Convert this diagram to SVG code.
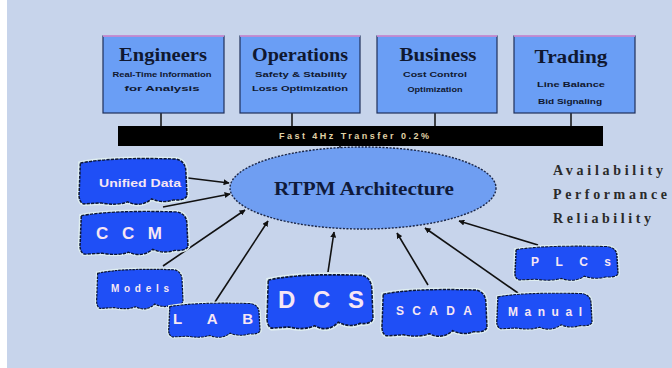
<svg xmlns="http://www.w3.org/2000/svg" xmlns:xlink="http://www.w3.org/1999/xlink" width="672" height="368" viewBox="0 0 672 368">
<style>
.box{fill:#6a9ef5;stroke:#1e2f5a;stroke-width:1.2}
.boxtop{stroke:#e69ae6;stroke-width:1.5}
.title{font-family:"Liberation Serif",serif;font-weight:bold;font-size:18px;fill:#101830;text-anchor:middle}
.sub{font-family:"Liberation Sans",sans-serif;font-weight:bold;font-size:8px;fill:#101830;text-anchor:middle}
.stub{stroke:#111;stroke-width:1.5}
.conn{stroke:#111;stroke-width:1.6;fill:none;marker-end:url(#ah)}
.halo{fill:none;stroke:#dfeef0;stroke-width:4;vector-effect:non-scaling-stroke}
.blob{fill:#1f4ff6;stroke:#0b1638;stroke-width:1.4;stroke-dasharray:3 1;vector-effect:non-scaling-stroke}
.nt{font-family:"Liberation Sans",sans-serif;font-weight:bold;fill:#f6e6f4;text-anchor:middle}
.side{font-family:"Liberation Serif",serif;font-weight:bold;font-size:14px;fill:#2a2a2a}
</style>
<defs>
<marker id="ah" viewBox="0 0 10 10" refX="9" refY="5" markerWidth="6" markerHeight="6" orient="auto" markerUnits="userSpaceOnUse">
<path d="M0,0 L10,5 L0,10 Z" fill="#111"/>
</marker>
<path id="shape" d="M3,6 Q30,0 90,2 Q99,4 99,15 L100,38 Q98,43 88,42 Q78,46 68,41 Q58,50 46,44 Q36,48 22,45 L6,46 Q1,44 2,34 Z"/>
</defs>
<rect x="0" y="0" width="672" height="368" fill="#ffffff"/>
<rect x="7" y="0" width="665" height="368" fill="#c7d4eb"/>

<g id="connectors">
<line class="stub" x1="161" y1="113" x2="161" y2="127"/>
<line class="stub" x1="292" y1="113" x2="292" y2="127"/>
<line class="stub" x1="435" y1="113" x2="435" y2="127"/>
<line class="stub" x1="571" y1="113" x2="571" y2="127"/>
<line class="stub" x1="340" y1="145" x2="340" y2="151" stroke-width="2.5"/>
<path class="conn" d="M188,178 L229,183"/>
<path class="conn" d="M163,207 L230,194"/>
<path class="conn" d="M163,266 L245,210"/>
<path class="conn" d="M215,302 L268,221"/>
<path class="conn" d="M328,272 L334,232"/>
<path class="conn" d="M428,285 L397,233"/>
<path class="conn" d="M518,293 L425,228"/>
<path class="conn" d="M538,245 L459,221"/>
</g>

<g id="engineers">
<rect class="box" x="103" y="36" width="121" height="77"/>
<line class="boxtop" x1="103" y1="36" x2="224" y2="36"/>
<text class="title" x="163" y="61" textLength="88" lengthAdjust="spacingAndGlyphs">Engineers</text>
<text class="sub" x="162" y="77" textLength="99" lengthAdjust="spacingAndGlyphs">Real-Time Information</text>
<text class="sub" x="162" y="91" textLength="75" lengthAdjust="spacingAndGlyphs">for Analysis</text>
</g>
<g id="operations">
<rect class="box" x="240" y="36" width="120" height="77"/>
<line class="boxtop" x1="240" y1="36" x2="360" y2="36"/>
<text class="title" x="300" y="61" textLength="96" lengthAdjust="spacingAndGlyphs">Operations</text>
<text class="sub" x="301" y="77" textLength="92" lengthAdjust="spacingAndGlyphs">Safety &amp; Stability</text>
<text class="sub" x="300" y="91" textLength="96" lengthAdjust="spacingAndGlyphs">Loss Optimization</text>
</g>
<g id="business">
<rect class="box" x="377" y="36" width="120" height="77"/>
<line class="boxtop" x1="377" y1="36" x2="497" y2="36"/>
<text class="title" x="438" y="61" textLength="77" lengthAdjust="spacingAndGlyphs">Business</text>
<text class="sub" x="435" y="77" textLength="64" lengthAdjust="spacingAndGlyphs">Cost Control</text>
<text class="sub" x="435" y="92" textLength="55" lengthAdjust="spacingAndGlyphs">Optimization</text>
</g>
<g id="trading">
<rect class="box" x="514" y="36" width="121" height="77"/>
<line class="boxtop" x1="514" y1="36" x2="635" y2="36"/>
<text class="title" x="571" y="63" textLength="73" lengthAdjust="spacingAndGlyphs">Trading</text>
<text class="sub" x="571" y="87" textLength="68" lengthAdjust="spacingAndGlyphs">Line Balance</text>
<text class="sub" x="570" y="104" textLength="64" lengthAdjust="spacingAndGlyphs">Bid Signaling</text>
</g>

<g id="bus">
<rect x="118" y="126" width="485" height="20" fill="#000"/>
<text x="354" y="139" font-family="Liberation Sans, sans-serif" font-weight="bold" font-size="9" fill="#e0d2a6" text-anchor="middle" textLength="150" lengthAdjust="spacing">Fast 4Hz Transfer 0.2%</text>
</g>

<g id="rtpm">
<ellipse cx="363" cy="188" rx="133" ry="41" fill="#6f9ef2" stroke="#1a2648" stroke-width="1.4" stroke-dasharray="2 1.5"/>
<text x="364" y="195" font-family="Liberation Serif, serif" font-weight="bold" font-size="19" fill="#101a3a" text-anchor="middle" textLength="180" lengthAdjust="spacingAndGlyphs">RTPM Architecture</text>
</g>

<g id="qualities">
<text class="side" x="553" y="175" textLength="110" lengthAdjust="spacing">Availability</text>
<text class="side" x="553" y="199" textLength="114" lengthAdjust="spacing">Performance</text>
<text class="side" x="553" y="223" textLength="98" lengthAdjust="spacing">Reliability</text>
</g>

<g id="unified">
<use href="#shape" class="halo" transform="translate(77,157) scale(1.1,1.02)"/>
<use href="#shape" class="blob" transform="translate(77,157) scale(1.1,1.02)"/>
<text class="nt" x="140" y="187" font-size="11" textLength="82" lengthAdjust="spacingAndGlyphs">Unified Data</text>
</g>
<g id="ccm">
<use href="#shape" class="halo" transform="translate(78,210) scale(1.1,0.96)"/>
<use href="#shape" class="blob" transform="translate(78,210) scale(1.1,0.96)"/>
<text class="nt" x="129" y="239" font-size="17" textLength="66" lengthAdjust="spacing">CCM</text>
</g>
<g id="models">
<use href="#shape" class="halo" transform="translate(95,268) scale(0.88,0.88)"/>
<use href="#shape" class="blob" transform="translate(95,268) scale(0.88,0.88)"/>
<text class="nt" x="140" y="292" font-size="10" textLength="58" lengthAdjust="spacing">Models</text>
</g>
<g id="lab">
<use href="#shape" class="halo" transform="translate(167,302) scale(0.93,0.76)"/>
<use href="#shape" class="blob" transform="translate(167,302) scale(0.93,0.76)"/>
<text class="nt" x="213" y="324" font-size="15" textLength="80" lengthAdjust="spacing">LAB</text>
</g>
<g id="dcs">
<use href="#shape" class="halo" transform="translate(265,273) scale(1.08,1.2)"/>
<use href="#shape" class="blob" transform="translate(265,273) scale(1.08,1.2)"/>
<text class="nt" x="321" y="308" font-size="24" textLength="86" lengthAdjust="spacing">DCS</text>
</g>
<g id="scada">
<use href="#shape" class="halo" transform="translate(380,288) scale(1.07,1.04)"/>
<use href="#shape" class="blob" transform="translate(380,288) scale(1.07,1.04)"/>
<text class="nt" x="434" y="315" font-size="12" textLength="76" lengthAdjust="spacing">SCADA</text>
</g>
<g id="manual">
<use href="#shape" class="halo" transform="translate(495,292) scale(0.97,0.8)"/>
<use href="#shape" class="blob" transform="translate(495,292) scale(0.97,0.8)"/>
<text class="nt" x="545" y="316" font-size="12" textLength="74" lengthAdjust="spacing">Manual</text>
</g>
<g id="plcs">
<use href="#shape" class="halo" transform="translate(513,245) scale(1.05,0.76)"/>
<use href="#shape" class="blob" transform="translate(513,245) scale(1.05,0.76)"/>
<text class="nt" x="571" y="266" font-size="12" textLength="80" lengthAdjust="spacing">PLCs</text>
</g>
</svg>
